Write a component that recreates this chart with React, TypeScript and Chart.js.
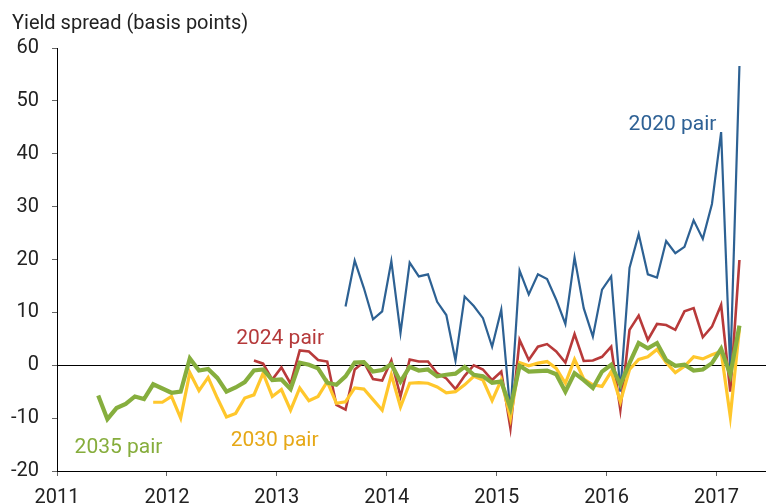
import { useEffect, useRef } from "react";
import { Chart, registerables } from "chart.js";

Chart.register(...registerables);

// Axis ticks
const yTicks = [-20, -10, 0, 10, 20, 30, 40, 50, 60];
const xYears = [2011, 2012, 2013, 2014, 2015, 2016, 2017];
const X_MAX = 2017.45;

const title = "Yield spread (basis points)";

// Monthly series (value per month, starting at the given first month)
const pair2035Start = "2011-05";
const pair2035 = [
  -5.7, -10.2, -8.1, -7.3, -5.9, -6.4, -3.6, -4.4,
  -5.2, -5.0, 1.3, -1.0, -0.7, -2.4, -5.0, -4.2, -3.2, -1.0, -0.8, -2.8,
  -2.7, -4.5, 0.5, 0.1, -0.6, -3.3, -3.7, -2.1, 0.5, 0.6, -1.2, -0.9,
  0.2, -3.1, -0.3, -1.0, -0.8, -2.1, -1.8, -1.6, -0.3, -1.8, -2.1, -3.3,
  -3.1, -8.1, -0.1, -1.2, -1.1, -1.0, -1.7, -5.0, -1.5, -2.8, -4.3, -1.2,
  0.1, -3.7, 0.4, 4.2, 3.2, 4.2, 1.0, -0.1, 0.1, -1.0, -0.8, 0.4,
  3.1, -1.8, 7.5,
];

const pair2030Start = "2011-11";
const pair2030 = [
  -7.0, -7.0,
  -5.9, -10.0, -1.4, -4.8, -2.3, -6.2, -9.8, -9.1, -6.2, -5.6, -1.5, -5.9,
  -4.6, -8.5, -4.3, -6.7, -5.9, -3.1, -7.2, -6.9, -4.3, -4.5, -6.5, -8.5,
  -1.8, -7.9, -3.4, -3.3, -3.4, -4.1, -5.2, -5.0, -3.7, -2.1, -2.8, -6.7,
  -2.8, -10.0, 0.5, -0.1, 0.4, 0.7, -0.6, -3.4, 1.1, -2.6, -3.7, -4.0,
  -1.2, -6.9, -0.8, 1.1, 1.6, 3.0, 0.5, -1.4, -0.2, 1.6, 1.2, 2.0,
  2.6, -9.7, 7.0,
];

const pair2024Start = "2012-10";
const pair2024 = [
  0.9, 0.3, -2.7,
  -0.4, -3.5, 2.8, 2.6, 1.0, 0.7, -7.5, -8.4, -0.8, 0.6, -2.6, -2.9,
  0.9, -5.9, 1.1, 0.7, 0.7, -1.5, -2.5, -4.5, -2.0, 0.0, -0.8, -2.8,
  -1.2, -11.9, 4.8, 1.0, 3.5, 4.0, 2.6, 0.5, 5.9, 0.8, 0.9, 1.6,
  3.5, -8.4, 6.7, 9.4, 4.8, 7.8, 7.6, 6.7, 10.2, 10.8, 5.3, 7.3,
  11.4, -5.0, 19.9,
];

const pair2020Start = "2013-08";
const pair2020 = [
  11.1, 19.8, 14.6, 8.7, 10.2,
  19.7, 6.1, 19.4, 16.8, 17.2, 12.0, 9.5, 0.9, 13.0, 11.2, 8.9, 3.5,
  10.5, -9.0, 17.9, 13.4, 17.2, 16.3, 12.4, 7.8, 20.4, 10.8, 5.4, 14.3,
  16.8, -5.0, 18.4, 24.8, 17.2, 16.6, 23.5, 21.2, 22.4, 27.4, 23.9, 30.5,
  44.1, -1.0, 56.6,
];

// Series labels (text, anchor in data coords: left / baseline)
const seriesLabels = [
  { text: "2020 pair", x: 2016.2, y: 44.4, color: "#2E6195" },
  { text: "2024 pair", x: 2012.63, y: 4.05, color: "#B5393A" },
  { text: "2030 pair", x: 2012.58, y: -15.2, color: "#E6A817" },
  { text: "2035 pair", x: 2011.16, y: -16.6, color: "#86AD3C" },
];

function toPoints(start: string, values: number[]) {
  const [y0, m0] = start.split("-").map(Number);
  return values.map((v, i) => {
    const idx = m0 - 1 + i;
    return { x: y0 + (idx + 0.5) / 12, y: v };
  });
}

const FONT = "Roboto";

const textPlugin = {
  id: "textLabels",
  afterDatasetsDraw(chart: any) {
    const { ctx, scales } = chart;
    const xs = scales.x;
    const ys = scales.y;
    ctx.save();
    ctx.textAlign = "left";
    ctx.textBaseline = "alphabetic";
    ctx.font = `21px ${FONT}`;
    for (const l of seriesLabels) {
      ctx.fillStyle = l.color;
      ctx.fillText(l.text, xs.getPixelForValue(l.x), ys.getPixelForValue(l.y));
    }
    ctx.font = `20px ${FONT}`;
    ctx.fillStyle = "#222";
    ctx.fillText(title, 12, 29);
    ctx.restore();
  },
};

export default function App() {
  const ref = useRef<HTMLCanvasElement | null>(null);

  useEffect(() => {
    if (!ref.current) return;
    const chart = new Chart(ref.current, {
      type: "line",
      data: {
        datasets: [
          {
            label: "2035 pair",
            data: toPoints(pair2035Start, pair2035),
            borderColor: "#86AE3E",
            borderWidth: 4.2,
            order: 1,
          },
          {
            label: "2030 pair",
            data: toPoints(pair2030Start, pair2030),
            borderColor: "#FFC72C",
            borderWidth: 3.2,
            order: 2,
          },
          {
            label: "2024 pair",
            data: toPoints(pair2024Start, pair2024),
            borderColor: "#B83A3A",
            borderWidth: 2.6,
            order: 3,
          },
          {
            label: "2020 pair",
            data: toPoints(pair2020Start, pair2020),
            borderColor: "#2D6193",
            borderWidth: 2.2,
            order: 4,
          },
        ] as any,
      },
      options: {
        responsive: false,
        animation: false,
        devicePixelRatio: 1,
        layout: { padding: { top: 48, right: 0, left: 0, bottom: 0 } },
        elements: {
          point: { radius: 0 },
          line: { tension: 0, fill: false },
        },
        plugins: {
          legend: { display: false },
          tooltip: { enabled: false },
          title: { display: false },
        },
        scales: {
          x: {
            type: "linear",
            min: 2011,
            max: X_MAX,
            afterFit: (s: any) => {
              s.height = 33;
            },
            afterBuildTicks: (s: any) => {
              s.ticks = xYears.map((v) => ({ value: v }));
            },
            ticks: {
              font: { family: FONT, size: 20 },
              color: "#222",
              padding: 10,
              maxRotation: 0,
              autoSkip: false,
              callback: (v: any) => String(v),
            },
            grid: {
              drawOnChartArea: false,
              tickLength: 5,
              tickColor: "#666",
            },
            border: { display: true, color: "#000", width: 1 },
          },
          y: {
            type: "linear",
            min: -20,
            max: 60,
            afterFit: (s: any) => {
              s.width = 57;
            },
            afterBuildTicks: (s: any) => {
              s.ticks = yTicks.map((v) => ({ value: v }));
            },
            ticks: {
              font: { family: FONT, size: 20 },
              color: "#222",
              padding: 13,
              autoSkip: false,
              callback: (v: any) => String(v),
            },
            grid: {
              drawOnChartArea: true,
              color: (c: any) =>
                c.tick && c.tick.value === 0 ? "#000" : "rgba(0,0,0,0)",
              tickColor: "#666",
              tickLength: 5,
            },
            border: { display: true, color: "#000", width: 1 },
          },
        },
      } as any,
      plugins: [textPlugin],
    });
    return () => chart.destroy();
  }, []);

  return (
    <div style={{ position: "absolute", left: 0, top: 0, width: 766, height: 504, background: "#fff" }}>
      <canvas ref={ref} width={766} height={504} style={{ display: "block" }} />
    </div>
  );
}
